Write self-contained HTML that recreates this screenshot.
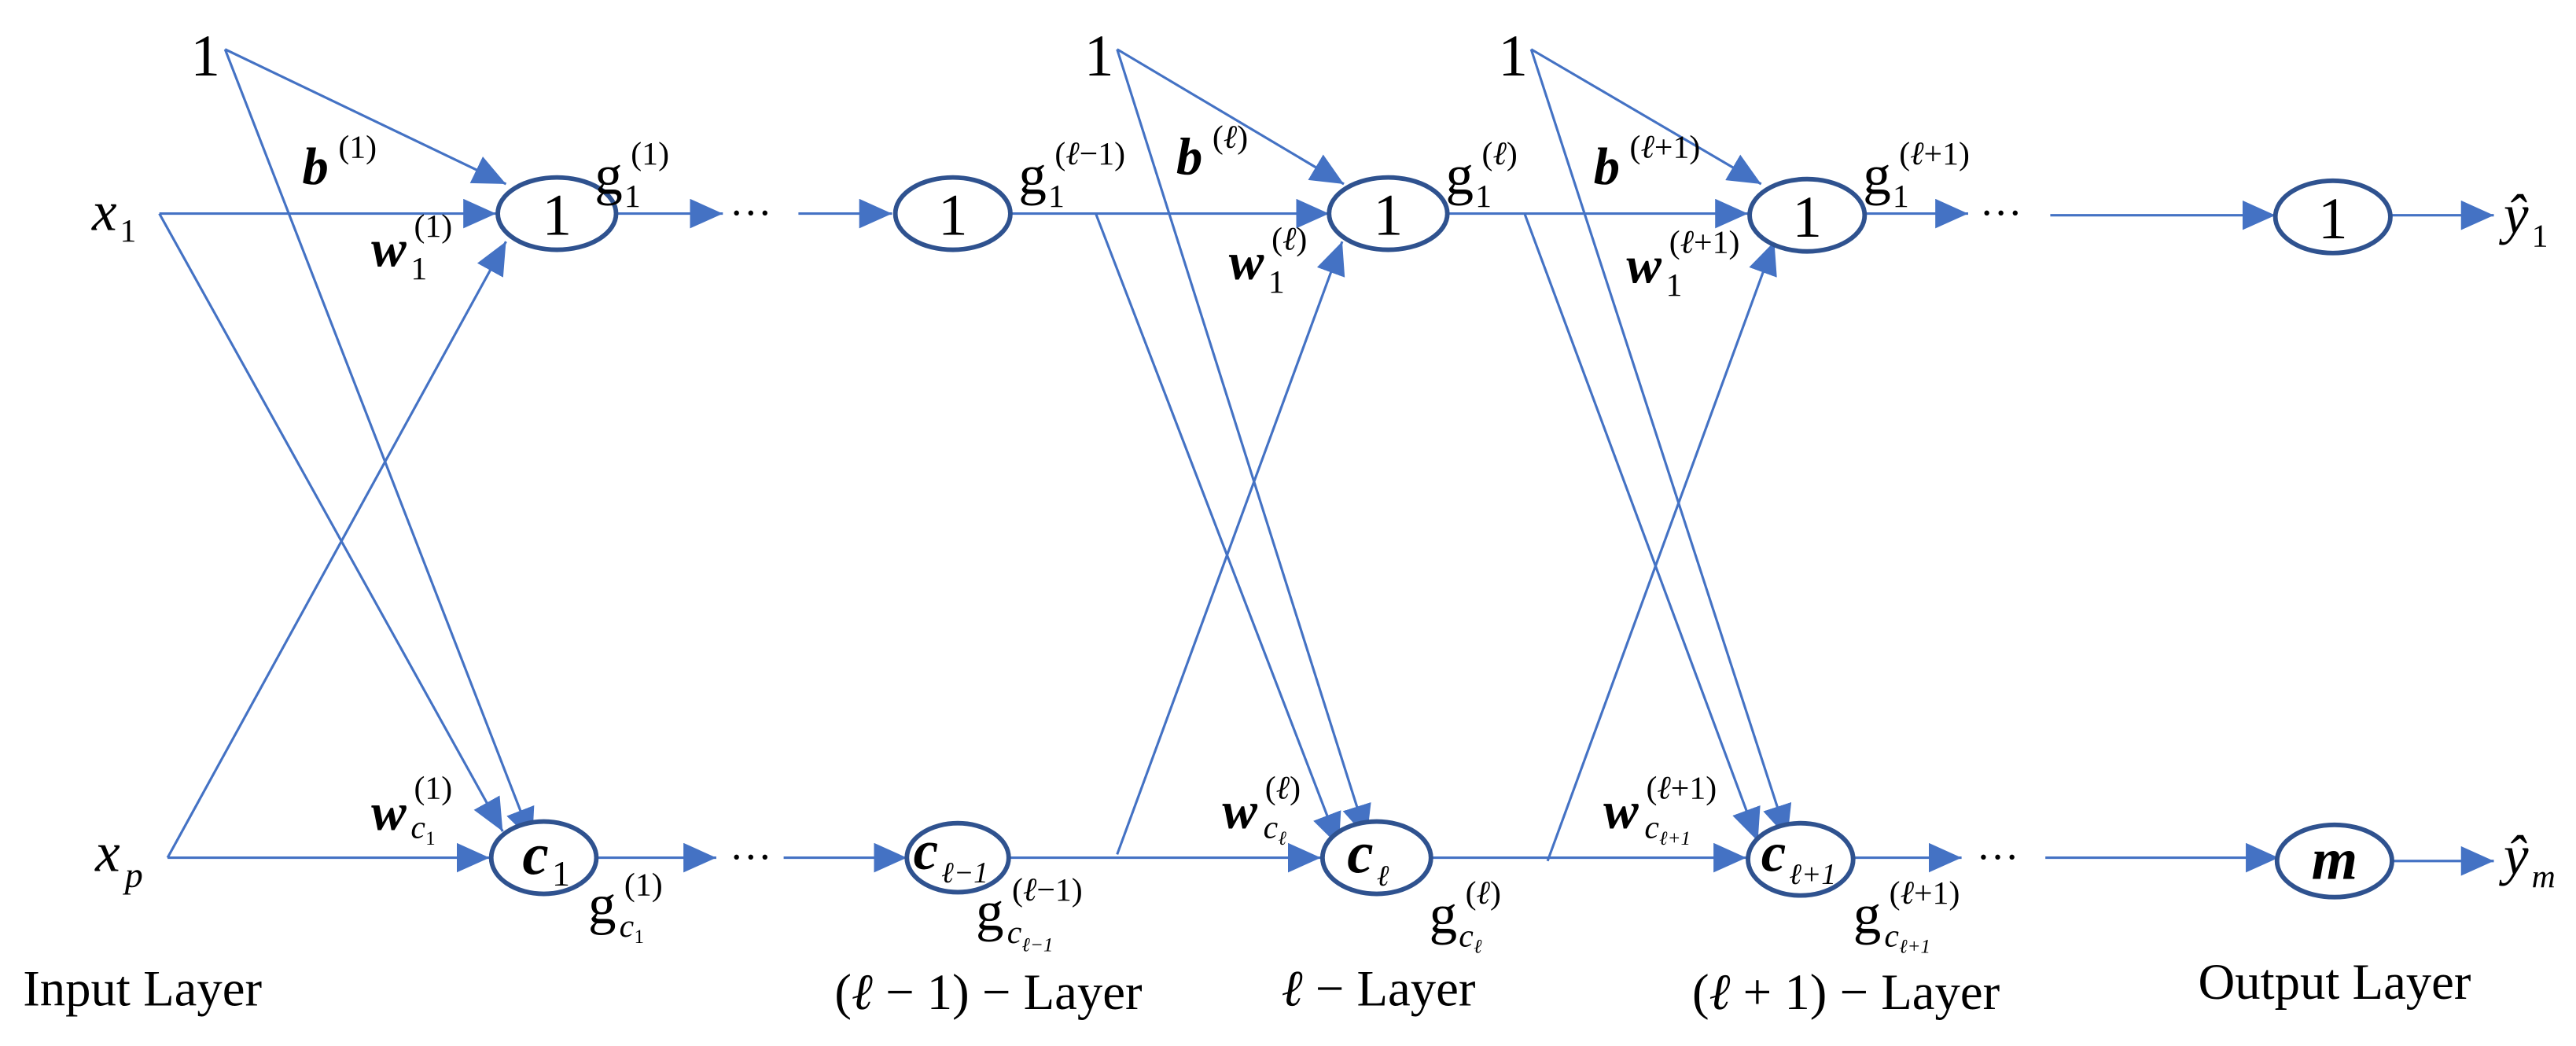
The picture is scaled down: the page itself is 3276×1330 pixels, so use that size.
<!DOCTYPE html>
<html><head><meta charset="utf-8"><style>
html,body{margin:0;padding:0;background:#fff;}
svg{display:block;}
text{font-family:"Liberation Serif",serif;fill:#000;}
.i{font-style:italic;}
.b{font-weight:bold;font-style:italic;}
.s{font-size:20px;}
.m{font-size:32px;}
.g{font-size:34px;}
.lay{font-size:31px;}
</style></head><body>
<svg width="3276" height="1330" viewBox="0 0 1568 636.6" preserveAspectRatio="none" xmlns="http://www.w3.org/2000/svg">
<defs>
<marker id="a" markerUnits="userSpaceOnUse" markerWidth="22" markerHeight="18" refX="20" refY="9" orient="auto">
<path d="M0,0 L20,9 L0,18 z" fill="#4472c4"/>
</marker>
</defs>
<g stroke="#4472c4" stroke-width="1.5" fill="none" marker-end="url(#a)">
<line x1="97" y1="130" x2="302" y2="130"/>
<line x1="97" y1="130" x2="306" y2="506"/>
<line x1="137" y1="30" x2="308" y2="112"/>
<line x1="137" y1="30" x2="324" y2="512"/>
<line x1="102" y1="522" x2="308" y2="147"/>
<line x1="102" y1="522" x2="298" y2="522"/>
<line x1="375" y1="130" x2="440" y2="130"/>
<line x1="363" y1="522" x2="436" y2="522"/>
<line x1="486" y1="130" x2="543" y2="130"/>
<line x1="477" y1="522" x2="552" y2="522"/>
<line x1="616" y1="130" x2="809" y2="130"/>
<line x1="667" y1="130" x2="815" y2="515"/>
<line x1="613" y1="522" x2="804" y2="522"/>
<line x1="680" y1="520" x2="817" y2="147"/>
<line x1="680" y1="30" x2="818" y2="112"/>
<line x1="680" y1="30" x2="832" y2="510"/>
<line x1="881" y1="130" x2="1064" y2="130"/>
<line x1="928" y1="130" x2="1070" y2="512"/>
<line x1="872" y1="522" x2="1063" y2="522"/>
<line x1="942" y1="524" x2="1080" y2="147"/>
<line x1="932" y1="30" x2="1072" y2="112"/>
<line x1="932" y1="30" x2="1088" y2="510"/>
<line x1="1136" y1="130" x2="1198" y2="130"/>
<line x1="1128" y1="522" x2="1194" y2="522"/>
<line x1="1248" y1="131" x2="1385" y2="131"/>
<line x1="1245" y1="522" x2="1387" y2="522"/>
<line x1="1456" y1="131" x2="1518" y2="131"/>
<line x1="1456" y1="524" x2="1518" y2="524"/>
</g>
<g stroke="#2f528f" stroke-width="2.8" fill="#fff">
<ellipse cx="339" cy="130" rx="36" ry="22"/>
<ellipse cx="331" cy="522" rx="32" ry="22"/>
<ellipse cx="580" cy="130" rx="35" ry="22"/>
<ellipse cx="583" cy="522" rx="31" ry="21"/>
<ellipse cx="845" cy="130" rx="36" ry="22"/>
<ellipse cx="838" cy="522" rx="33" ry="22"/>
<ellipse cx="1100" cy="131" rx="35" ry="22"/>
<ellipse cx="1096" cy="523" rx="32" ry="22"/>
<ellipse cx="1420" cy="132" rx="35" ry="22"/>
<ellipse cx="1421" cy="524" rx="35" ry="22"/>
</g>
<g font-size="36" text-anchor="middle">
<text x="339" y="143">1</text>
<text x="580" y="143">1</text>
<text x="845" y="143">1</text>
<text x="1100" y="144">1</text>
<text x="1420" y="145">1</text>
<text x="1421" y="535" class="i b">m</text>
</g>
<text x="318" y="532" font-size="36" class="i b">c</text><text x="336" y="539" font-size="22">1</text>
<text x="556" y="529" font-size="34" class="i b">c</text><text x="573" y="537" font-size="18" class="i">ℓ−1</text>
<text x="820" y="531" font-size="36" class="i b">c</text><text x="838" y="539" font-size="18" class="i">ℓ</text>
<text x="1072" y="530" font-size="34" class="i b">c</text><text x="1089" y="538" font-size="18" class="i">ℓ+1</text>
<text x="116" y="46" font-size="36">1</text>
<text x="660" y="46" font-size="36">1</text>
<text x="912" y="46" font-size="36">1</text>
<text x="56" y="140" font-size="34" class="i">x</text><text x="73" y="147" class="s">1</text>
<text x="58" y="530" font-size="34" class="i">x</text><text x="76" y="540" font-size="22" class="i">p</text>
<text x="184" y="112" class="b m">b</text><text x="206" y="96" class="s">(1)</text>
<text x="226" y="162" class="b m">w</text><text x="252" y="144" class="s">(1)</text><text x="250" y="170" class="s">1</text>
<text x="226" y="505" class="b m">w</text><text x="252" y="486" class="s">(1)</text><text x="250" y="510" class="s i">c</text><text x="259" y="514" font-size="12">1</text>
<text x="362" y="118" class="g">g</text><text x="384" y="100" class="s">(1)</text><text x="380" y="126" class="s">1</text>
<text x="358" y="562" class="g">g</text><text x="380" y="545" class="s">(1)</text><text x="377" y="570" class="s i">c</text><text x="386" y="574" font-size="12">1</text>
<text x="444" y="138" font-size="26">···</text>
<text x="444" y="530" font-size="26">···</text>
<text x="1205" y="138" font-size="26">···</text>
<text x="1203" y="530" font-size="26">···</text>
<text x="620" y="118" class="g">g</text><text x="642" y="100" class="s">(<tspan class="i">ℓ</tspan>−1)</text><text x="638" y="126" class="s">1</text>
<text x="594" y="566" class="g">g</text><text x="616" y="548" class="s">(<tspan class="i">ℓ</tspan>−1)</text><text x="613" y="574" class="s i">c</text><text x="622" y="579" font-size="12" class="i">ℓ−1</text>
<text x="716" y="106" class="b m">b</text><text x="738" y="90" class="s">(<tspan class="i">ℓ</tspan>)</text>
<text x="748" y="170" class="b m">w</text><text x="774" y="152" class="s">(<tspan class="i">ℓ</tspan>)</text><text x="772" y="178" class="s">1</text>
<text x="744" y="504" class="b m">w</text><text x="770" y="486" class="s">(<tspan class="i">ℓ</tspan>)</text><text x="769" y="510" class="s i">c</text><text x="778" y="514" font-size="12" class="i">ℓ</text>
<text x="880" y="118" class="g">g</text><text x="902" y="100" class="s">(<tspan class="i">ℓ</tspan>)</text><text x="898" y="126" class="s">1</text>
<text x="870" y="568" class="g">g</text><text x="892" y="550" class="s">(<tspan class="i">ℓ</tspan>)</text><text x="888" y="576" class="s i">c</text><text x="897" y="580" font-size="12" class="i">ℓ</text>
<text x="970" y="112" class="b m">b</text><text x="992" y="96" class="s">(<tspan class="i">ℓ</tspan>+1)</text>
<text x="990" y="172" class="b m">w</text><text x="1016" y="154" class="s">(<tspan class="i">ℓ</tspan>+1)</text><text x="1014" y="180" class="s">1</text>
<text x="976" y="504" class="b m">w</text><text x="1002" y="486" class="s">(<tspan class="i">ℓ</tspan>+1)</text><text x="1001" y="510" class="s i">c</text><text x="1010" y="514" font-size="12" class="i">ℓ+1</text>
<text x="1134" y="118" class="g">g</text><text x="1156" y="100" class="s">(<tspan class="i">ℓ</tspan>+1)</text><text x="1152" y="126" class="s">1</text>
<text x="1128" y="568" class="g">g</text><text x="1150" y="550" class="s">(<tspan class="i">ℓ</tspan>+1)</text><text x="1147" y="576" class="s i">c</text><text x="1156" y="580" font-size="12" class="i">ℓ+1</text>
<text x="1524" y="142" font-size="34" class="i">ŷ</text><text x="1541" y="150" class="s">1</text>
<text x="1524" y="532" font-size="34" class="i">ŷ</text><text x="1541" y="540" class="s i">m</text>
<text x="14" y="612" class="lay">Input Layer</text>
<text x="508" y="614" class="lay">(<tspan class="i">ℓ</tspan> − 1) − Layer</text>
<text x="780" y="612" class="lay"><tspan class="i">ℓ</tspan> − Layer</text>
<text x="1030" y="614" class="lay">(<tspan class="i">ℓ</tspan> + 1) − Layer</text>
<text x="1338" y="608" class="lay">Output Layer</text>
</svg>
</body></html>
